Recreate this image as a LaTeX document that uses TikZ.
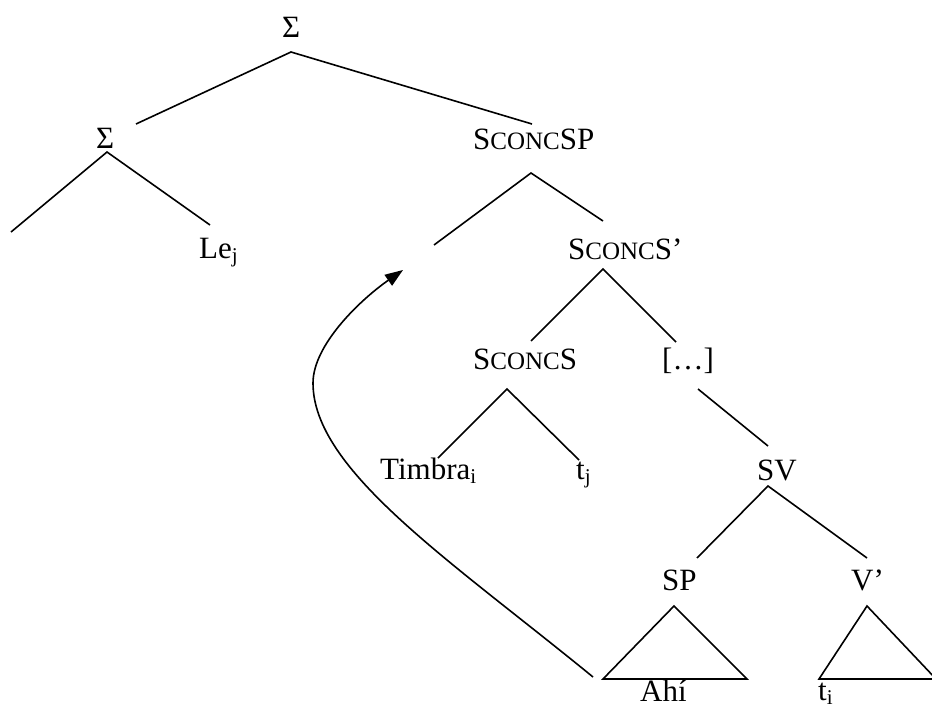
\documentclass[tikz,border=0pt]{standalone}
\usepackage{fontspec}
\setmainfont{Liberation Serif}
\usetikzlibrary{arrows.meta}
\newcommand\sconcsc{S{\fontsize{25pt}{25pt}\selectfont CONC}}
\newcommand\sbs[1]{\raisebox{-0.16em}{\fontsize{21pt}{21pt}\selectfont #1}}
\begin{document}
\begin{tikzpicture}[x=1pt,y=-1pt,
  lbl/.style={anchor=base west,inner sep=0pt,font=\fontsize{31pt}{31pt}\selectfont},
  edge/.style={line width=1.6pt,line cap=butt},
  tri/.style={line width=1.6pt,line join=miter},
  move/.style={line width=1.6pt,-{Triangle[length=18pt,width=13pt]}}]
\useasboundingbox (0,0) rectangle (932,704);
% labels
\node[lbl] (root) at (282,37) {Σ};
\node[lbl] (sig) at (96,148) {Σ};
\node[lbl] (le) at (199,258) {Le\sbs{j}};
\node[lbl] (ssp) at (473,149) {\sconcsc SP};
\node[lbl] (ssb) at (568,259) {\sconcsc S’};
\node[lbl] (ss) at (473,369) {\sconcsc S};
\node[lbl] (dots) at (662,369) {[…]};
\node[lbl] (timbra) at (380,479) {Timbra\sbs{i}};
\node[lbl] (tj) at (576,479) {t\sbs{j}};
\node[lbl] (sv) at (757,480) {SV};
\node[lbl] (sp) at (662,590) {SP};
\node[lbl] (vb) at (851,590) {V’};
\node[lbl] (ahi) at (640,701) {Ahí};
\node[lbl] (ti) at (818,700) {t\sbs{i}};
% line ends
\coordinate (rA) at (291,52);  \coordinate (rL) at (136,124); \coordinate (rR) at (532,124);
\coordinate (gA) at (107,152); \coordinate (gL) at (11,232);  \coordinate (gR) at (210,225);
\coordinate (pA) at (531,173); \coordinate (pL) at (434,245); \coordinate (pR) at (603,221);
\coordinate (bA) at (603,269); \coordinate (bL) at (531,341); \coordinate (bR) at (676,342);
\coordinate (sA) at (507,389); \coordinate (sL) at (438,458); \coordinate (sR) at (579,460);
\coordinate (dA) at (698,389); \coordinate (dB) at (768,446);
\coordinate (vA) at (768,486); \coordinate (vL) at (697,558); \coordinate (vR) at (867,558);
\coordinate (t1A) at (674,606); \coordinate (t1L) at (603,679); \coordinate (t1R) at (747,679);
\coordinate (t2A) at (867,606); \coordinate (t2L) at (819,679); \coordinate (t2R) at (936,679);
\coordinate (mS) at (593,677); \coordinate (mM) at (313,383); \coordinate (mE) at (403,270);
% edges
\draw[edge] (rL) -- (rA) -- (rR);
\draw[edge] (gL) -- (gA) -- (gR);
\draw[edge] (pL) -- (pA) -- (pR);
\draw[edge] (bL) -- (bA) -- (bR);
\draw[edge] (sL) -- (sA) -- (sR);
\draw[edge] (dA) -- (dB);
\draw[edge] (vL) -- (vA) -- (vR);
\draw[tri] (t1A) -- (t1L) -- (t1R) -- cycle;
\draw[tri] (t2A) -- (t2L) -- (t2R) -- cycle;
% movement arrow
\draw[move] (mS) .. controls (450,560) and (313,470) .. (mM)
  .. controls (313,345) and (360,300) .. (mE);
\end{tikzpicture}
\end{document}
